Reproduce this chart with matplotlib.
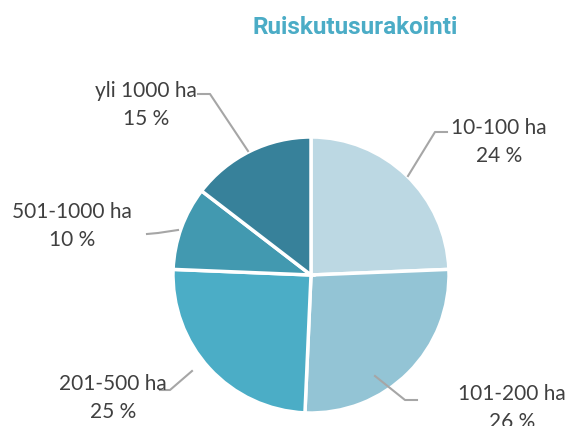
import matplotlib.pyplot as plt

labels = ["10-100 ha", "101-200 ha", "201-500 ha", "501-1000 ha", "yli 1000 ha"]
shares = [24.4, 26.4, 25.0, 9.8, 14.6]
colors = ["#BCD8E3", "#93C4D5", "#4BADC6", "#4299B0", "#37819A"]

W, H = 568, 427


def py(y):
    # pixel row -> axes y
    return H - y


fig = plt.figure(figsize=(W / 100, H / 100), dpi=100)
ax = fig.add_axes([0, 0, 1, 1])

ax.pie(shares, colors=colors, startangle=90, counterclock=False,
       center=(311, py(276)), radius=138, frame=True,
       wedgeprops=dict(edgecolor="white", linewidth=2.5))
ax.set_xlim(0, W)
ax.set_ylim(0, H)
ax.axis("off")

ax.text(355, py(27), "Ruiskutusurakointi", ha="center", va="center",
        fontsize=17.5, fontweight="bold", color="#4BACC6", family="Roboto")

# label positions and leader lines (pixel coordinates)
label_pos = [(499, 142), (512, 408), (113, 398), (72, 226), (146, 105)]
leaders = [
    [(447, 133), (435, 133), (408, 177)],
    [(375, 377), (405, 401), (417, 401)],
    [(160, 391), (170, 391), (192, 372)],
    [(147, 235), (158, 234), (178, 231)],
    [(198, 95), (210, 95), (248, 152)],
]

for lab, share, (x, y), pts in zip(labels, shares, label_pos, leaders):
    ax.text(x, py(y), f"{lab}\n{round(share)} %", ha="center", va="center",
            fontsize=15, color="#404040", family="Lato", linespacing=1.45)
    ax.plot([p[0] for p in pts], [py(p[1]) for p in pts],
            color="#A6A6A6", linewidth=1.5)

fig.savefig("out.png", dpi=100)
